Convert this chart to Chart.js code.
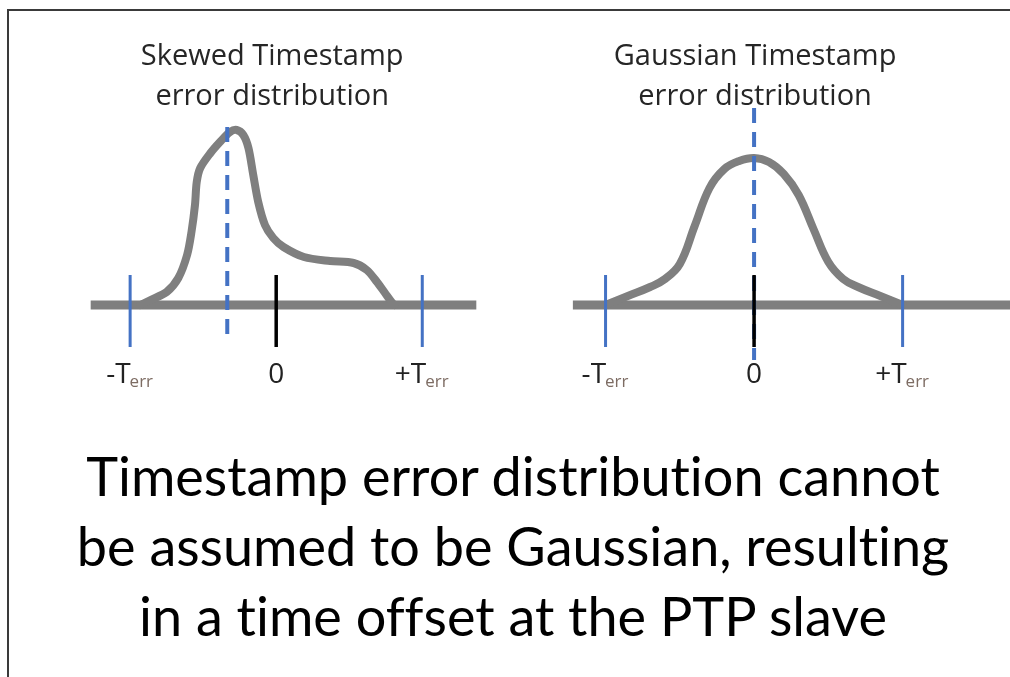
<!DOCTYPE html>
<html>
<head>
<meta charset="utf-8">
<script src="https://cdn.jsdelivr.net/npm/chart.js@4.4.1/dist/chart.umd.min.js"></script>
<style>
  html, body { margin: 0; padding: 0; background: #fff; overflow: hidden; }
  body { width: 1010px; height: 677px; position: relative; }
  .edge-top { position: absolute; left: 7px; top: 9px; width: 1003px; height: 2px; background: #3a3a3a; }
  .edge-left { position: absolute; left: 7px; top: 9px; width: 2px; height: 668px; background: #3a3a3a; }
  canvas { position: absolute; }
  #skewChart { left: 79px; top: 20px; }
  #gaussChart { left: 561px; top: 20px; }
  .caption { position: absolute; left: 0; top: 441px; width: 1026px; text-align: center;
             font-family: Lato, sans-serif; font-size: 54px; line-height: 70px; color: #000;
             font-variant-ligatures: none; font-feature-settings: "liga" 0; }
</style>
</head>
<body>
<div class="edge-top"></div>
<div class="edge-left"></div>
<canvas id="skewChart" width="409" height="380"></canvas>
<canvas id="gaussChart" width="453" height="380"></canvas>
<div class="caption">
  <div>Timestamp error distribution cannot</div>
  <div>be assumed to be Gaussian, resulting</div>
  <div>in a time offset at the PTP slave</div>
</div>
<script>
  'use strict';

  // x in units of T_err, y = relative probability density
  const skewX = [-0.93, -0.86, -0.75, -0.67, -0.61, -0.58, -0.556, -0.544, -0.52, -0.45,
    -0.385, -0.316, -0.27, -0.225, -0.19, -0.157, -0.123, -0.077, -0.02, 0.05,
    0.19, 0.37, 0.53, 0.62, 0.69, 0.745, 0.79, 0.81];
  const skewY = [0, 0.05, 0.13, 0.27, 0.50, 0.73, 1.00, 1.23, 1.37, 1.52,
    1.63, 1.73, 1.75, 1.70, 1.57, 1.30, 1.03, 0.80, 0.67, 0.58,
    0.48, 0.44, 0.42, 0.35, 0.23, 0.12, 0.03, 0];

  const gaussX = [-1.0, -0.85, -0.7, -0.6, -0.5, -0.4, -0.3, -0.2, -0.1, 0,
    0.1, 0.2, 0.3, 0.4, 0.5, 0.6, 0.7, 0.85, 1.0];
  const gaussY = [0, 0.09, 0.18, 0.26, 0.41, 0.79, 1.17, 1.36, 1.44, 1.47,
    1.43, 1.31, 1.10, 0.76, 0.43, 0.26, 0.18, 0.09, 0];

  const tickValues = [-1, 0, 1];
  const tickMain = ['-T', '0', '+T'];
  const tickSub = ['err', '', 'err'];

  const skewMean = -0.335;
  const gaussMean = 0;

  const skewTitle = ['Skewed Timestamp', 'error distribution'];
  const gaussTitle = ['Gaussian Timestamp', 'error distribution'];

  const gray = '#7f7f7f';
  const blue = '#4472c4';

  function line(points, color, width, extra) {
    return Object.assign({
      data: points,
      borderColor: color,
      borderWidth: width,
      pointRadius: 0,
      fill: false,
      tension: 0,
    }, extra || {});
  }

  function panelDatasets(cx, cy, smooth, mean, meanTop, meanBottom, baseFrom, baseTo) {
    const curve = cx.map((x, i) => ({ x: x, y: cy[i] }));
    return [
      line([{ x: 0, y: 0.30 }, { x: 0, y: -0.42 }], '#000', 3.5, { order: 0 }),
      line([{ x: mean, y: meanTop }, { x: mean, y: meanBottom }], blue, 4,
        { order: 1, borderDash: [15, 9] }),
      line([{ x: tickValues[0], y: 0.30 }, { x: tickValues[0], y: -0.42 }], blue, 3, { order: 1 }),
      line([{ x: tickValues[2], y: 0.30 }, { x: tickValues[2], y: -0.42 }], blue, 3, { order: 1 }),
      line(curve, gray, 8, { order: 2, tension: smooth, borderCapStyle: 'round', borderJoinStyle: 'round' }),
      line([{ x: baseFrom, y: 0 }, { x: baseTo, y: 0 }], gray, 9, { order: 3 }),
    ];
  }

  const panelText = {
    id: 'panelText',
    afterDraw(chart, args, opts) {
      const ctx = chart.ctx;
      const xs = chart.scales.x;
      const ys = chart.scales.y;
      ctx.save();
      ctx.textBaseline = 'alphabetic';

      ctx.font = '29px "Open Sans"';
      ctx.fillStyle = '#262626';
      ctx.textAlign = 'center';
      const cx = xs.getPixelForValue(0) + opts.titleShift;
      opts.title.forEach((t, i) => ctx.fillText(t, cx, 45 + i * 40));

      const ly = ys.getPixelForValue(-0.78);
      ctx.textAlign = 'left';
      tickValues.forEach((v, i) => {
        ctx.font = '28px "Open Sans"';
        const w1 = ctx.measureText(tickMain[i]).width;
        ctx.font = '17px "Open Sans"';
        const w2 = tickSub[i] ? ctx.measureText(tickSub[i]).width : 0;
        const x0 = xs.getPixelForValue(v) - (w1 + w2) / 2;
        ctx.font = '28px "Open Sans"';
        ctx.fillStyle = '#222';
        ctx.fillText(tickMain[i], x0, ly);
        if (tickSub[i]) {
          ctx.font = '17px "Open Sans"';
          ctx.fillStyle = '#7d6c63';
          ctx.fillText(tickSub[i], x0 + w1 - 1, ly + 4);
        }
      });
      ctx.restore();
    },
  };

  function makeChart(id, datasets, xmin, xmax, title, titleShift) {
    const ctx = document.getElementById(id).getContext('2d');
    return new Chart(ctx, {
      type: 'line',
      data: { datasets: datasets },
      plugins: [panelText],
      options: {
        responsive: false,
        animation: false,
        devicePixelRatio: 1,
        layout: { padding: 0 },
        plugins: {
          legend: { display: false },
          tooltip: { enabled: false },
          panelText: { title: title, titleShift: titleShift },
        },
        scales: {
          x: { type: 'linear', min: xmin, max: xmax, display: false },
          y: { type: 'linear', min: -0.95, max: 2.85, display: false },
        },
      },
    });
  }

  makeChart('skewChart',
    panelDatasets(skewX, skewY, 0.3, skewMean, 1.78, -0.38, -1.27, 1.37),
    -1.35, 1.45, skewTitle, -4);

  makeChart('gaussChart',
    panelDatasets(gaussX, gaussY, 0.4, gaussMean, 1.97, -0.55, -1.22, 1.75),
    -1.3, 1.75, gaussTitle, 1);
</script>
</body>
</html>
